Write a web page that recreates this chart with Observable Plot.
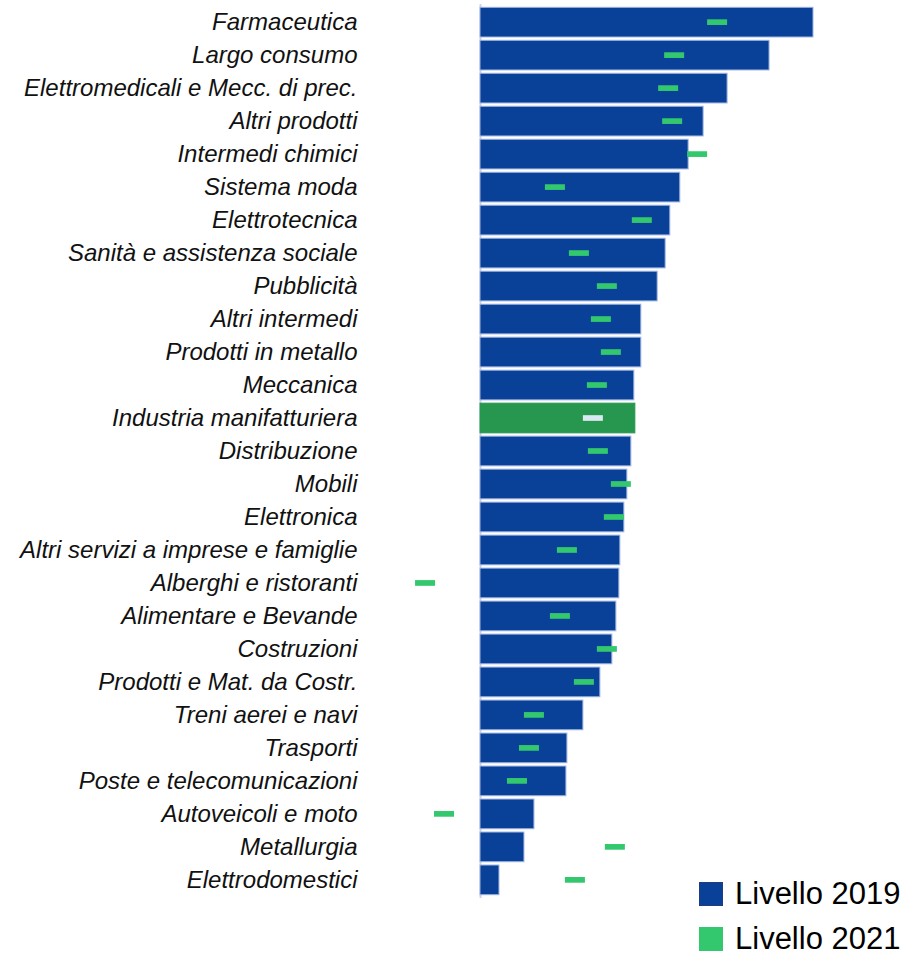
<!DOCTYPE html>
<html>
<head>
<meta charset="utf-8">
<script src="https://cdn.jsdelivr.net/npm/d3@7"></script>
<script src="https://cdn.jsdelivr.net/npm/@observablehq/plot@0.6"></script>
<style>
  html, body { margin: 0; padding: 0; background: #fff; overflow: hidden; }
  #wrap { position: relative; width: 910px; height: 959px; font-family: "Liberation Sans", Arial, sans-serif; }
  #wrap svg { position: absolute; left: 0; top: 0; }
  .ylab text { font-style: italic; }
  .legend { position: absolute; left: 699px; display: flex; align-items: center; font-size: 31px; color: #000; line-height: 28px; height: 28px; }
  .legend .sw { width: 24px; height: 24px; margin-right: 12px; box-sizing: border-box; flex: none; }
</style>
</head>
<body>
<div id="wrap"></div>
<script>
const categories = [
  "Farmaceutica", "Largo consumo", "Elettromedicali e Mecc. di prec.", "Altri prodotti",
  "Intermedi chimici", "Sistema moda", "Elettrotecnica", "Sanità e assistenza sociale",
  "Pubblicità", "Altri intermedi", "Prodotti in metallo", "Meccanica",
  "Industria manifatturiera", "Distribuzione", "Mobili", "Elettronica",
  "Altri servizi a imprese e famiglie", "Alberghi e ristoranti", "Alimentare e Bevande",
  "Costruzioni", "Prodotti e Mat. da Costr.", "Treni aerei e navi", "Trasporti",
  "Poste e telecomunicazioni", "Autoveicoli e moto", "Metallurgia", "Elettrodomestici"
];
const level2019 = [
  100, 86.8, 74.2, 67, 62.5, 60, 57, 55.6, 53.2, 48.3, 48.3, 46.2,
  46.5, 45.3, 44.1, 43.2, 42, 41.7, 40.8, 39.6, 36, 30.9, 26.1, 25.8,
  16.2, 13.2, 5.7
];
const level2021 = [
  71.2, 58.3, 56.5, 57.7, 65.2, 22.5, 48.6, 29.7, 38.1, 36.3, 39.3, 35.1,
  33.9, 35.4, 42.3, 40.2, 26.1, -16.5, 24, 38.1, 31.2, 16.2, 14.7, 11.1,
  -10.8, 40.5, 28.5
];
const totalCategory = "Industria manifatturiera";

const data = categories.map((c, i) => ({cat: c, v19: level2019[i], v21: level2021[i], total: c === totalCategory}));

const chart = Plot.plot({
  width: 910,
  height: 900,
  marginTop: 4,
  marginBottom: 2,
  marginLeft: 360,
  marginRight: 0,
  style: {fontFamily: "'Liberation Sans', Arial, sans-serif", background: "transparent"},
  x: {domain: [0, 100], range: [480, 813], axis: null},
  y: {domain: categories, padding: 0.1, round: false, label: null, axis: null},
  marks: [
    Plot.ruleX([0], {stroke: "#c9d5ee", strokeWidth: 2}),
    Plot.barX(data, {
      y: "cat", x: "v19",
      fill: d => d.total ? "#27974f" : "#0a4198",
      stroke: d => d.total ? "#27974f" : "#9fb4e0",
      strokeWidth: 1
    }),
    Plot.barX(data, {
      y: "cat", x1: "v21", x2: "v21",
      insetLeft: -10, insetRight: -10, insetTop: 12, insetBottom: 12,
      fill: d => d.total ? "#d9e8f2" : "#33c76e"
    }),
    Plot.axisY({
      tickSize: 0, tickPadding: 3, fontSize: 24, label: null,
      className: "ylab", fill: "#111"
    })
  ]
});
const wrap = document.getElementById("wrap");
wrap.appendChild(chart);

const legendItems = [
  {label: "Livello 2019", fill: "#0a4198", stroke: "#1f3d7f", top: 880},
  {label: "Livello 2021", fill: "#33c76e", stroke: "#33c76e", top: 925}
];
legendItems.forEach(it => {
  const row = document.createElement("div");
  row.className = "legend";
  row.style.top = it.top + "px";
  const sw = document.createElement("div");
  sw.className = "sw";
  sw.style.background = it.fill;
  sw.style.border = "1.5px solid " + it.stroke;
  row.appendChild(sw);
  const t = document.createElement("span");
  t.textContent = it.label;
  row.appendChild(t);
  wrap.appendChild(row);
});
</script>
</body>
</html>
